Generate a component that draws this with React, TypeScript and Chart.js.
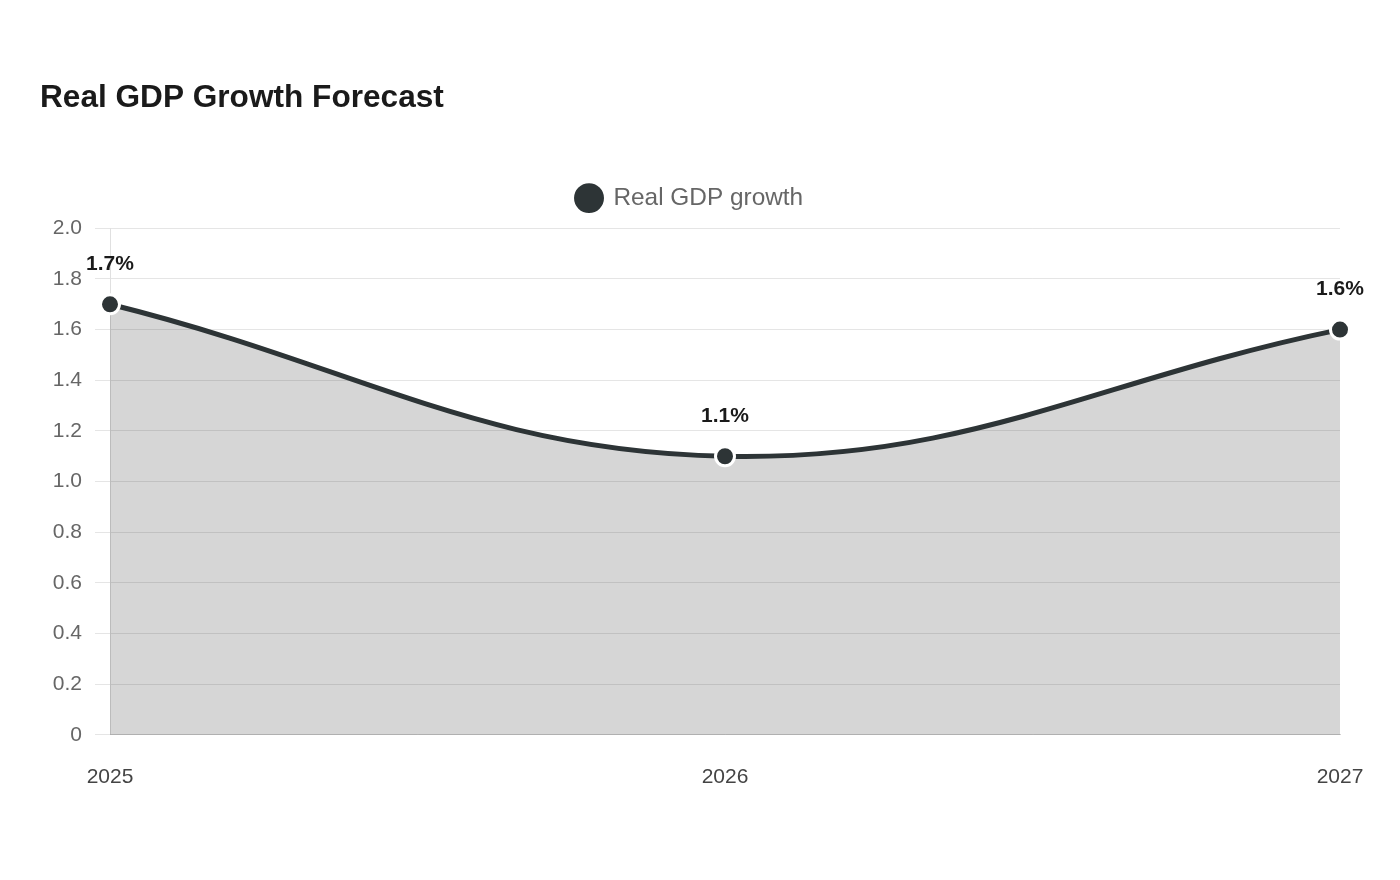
import React, { useEffect, useRef } from "react";
import { Chart, registerables } from "chart.js";

Chart.register(...registerables);

const years = ["2025", "2026", "2027"];
const growth = [1.7, 1.1, 1.6];
const growthLabels = ["1.7%", "1.1%", "1.6%"];

const FONT = "'Liberation Sans', Arial, Helvetica, sans-serif";
const LINE = "#2d3436";

// Percentage labels above each point
const valueLabels = {
  id: "valueLabels",
  afterDatasetsDraw(chart: any) {
    const ctx = chart.ctx;
    const meta = chart.getDatasetMeta(0);
    ctx.save();
    ctx.font = `bold 21px ${FONT}`;
    ctx.fillStyle = "#1a1a1a";
    ctx.textAlign = "center";
    ctx.textBaseline = "middle";
    meta.data.forEach((pt: any, i: number) => {
      ctx.fillText(growthLabels[i], pt.x, pt.y - 40);
    });
    ctx.restore();
  },
};

// Extra space below the legend row
const legendGap = {
  id: "legendGap",
  beforeInit(chart: any) {
    const fit = chart.legend.fit;
    chart.legend.fit = function () {
      fit.bind(this)();
      this.height += 8;
    };
  },
};

export default function App() {
  const ref = useRef<HTMLCanvasElement>(null);

  useEffect(() => {
    if (!ref.current) return;
    const chart = new Chart(ref.current, {
      type: "line",
      data: {
        labels: years,
        datasets: [
          {
            label: "Real GDP growth",
            data: growth,
            borderColor: LINE,
            backgroundColor: "rgba(0,0,0,0.16)",
            fill: true,
            borderWidth: 5,
            tension: 0.4,
            pointRadius: 9.5,
            pointBorderWidth: 3,
            pointBackgroundColor: LINE,
            pointBorderColor: "#ffffff",
            clip: false,
          },
        ],
      },
      options: {
        responsive: false,
        animation: false,
        layout: { padding: { left: 40, right: 60, top: 0, bottom: 68 } },
        plugins: {
          title: {
            display: true,
            text: "Real GDP Growth Forecast",
            align: "start",
            color: "#1a1a1a",
            font: { family: FONT, size: 31.6, weight: "bold" },
            padding: { top: 79, bottom: 59 },
          },
          legend: {
            display: true,
            labels: {
              usePointStyle: true,
              pointStyle: "circle",
              boxHeight: 23.3,
              color: "#666666",
              font: { family: FONT, size: 24.4 },
              padding: 10,
            },
          },
          tooltip: { enabled: false },
        },
        scales: {
          x: {
            grid: { display: false },
            border: { display: true, color: "rgba(0,0,0,0.18)" },
            ticks: {
              color: "#444444",
              font: { family: FONT, size: 21 },
              padding: 22,
            },
          },
          y: {
            min: 0,
            max: 2,
            afterFit(scale: any) {
              scale.width = 70;
            },
            ticks: {
              stepSize: 0.2,
              color: "#666666",
              font: { family: FONT, size: 21 },
              padding: 13,
            },
            grid: { color: "rgba(0,0,0,0.1)", tickLength: 15 },
            border: { display: true, color: "rgba(0,0,0,0.12)" },
          },
        },
      },
      plugins: [valueLabels, legendGap],
    });
    return () => chart.destroy();
  }, []);

  return (
    <div style={{ position: "absolute", left: 0, top: 0, width: 1400, height: 880 }}>
      <canvas ref={ref} width={1400} height={880} />
    </div>
  );
}
